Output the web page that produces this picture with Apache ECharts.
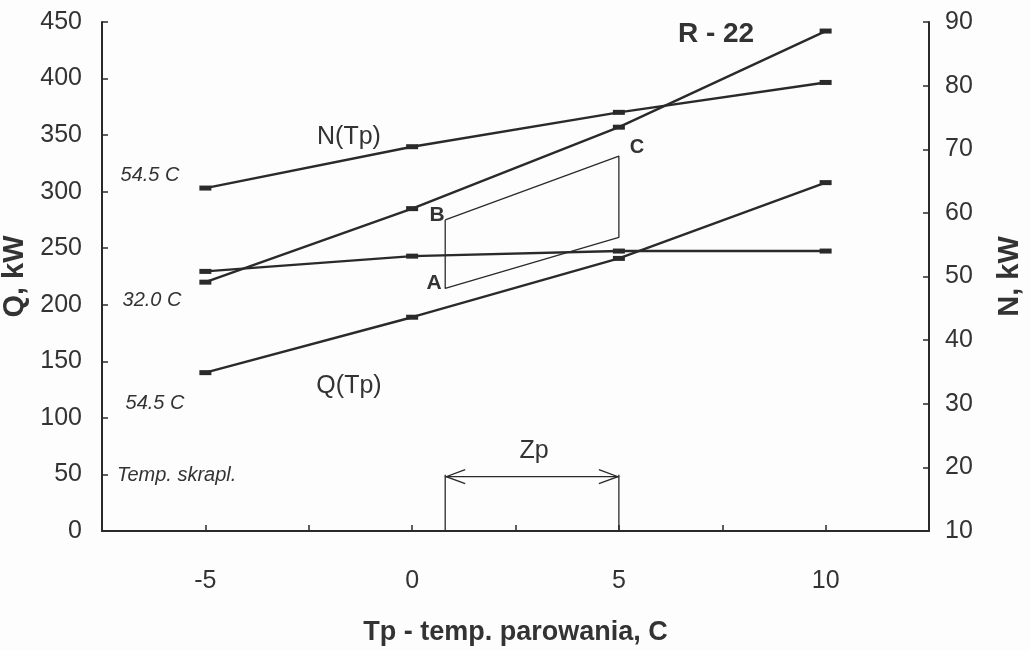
<!DOCTYPE html>
<html>
<head>
<meta charset="utf-8">
<script src="https://cdn.jsdelivr.net/npm/echarts@6/dist/echarts.min.js"></script>
<style>
html,body{margin:0;padding:0;background:#fdfdfd;}
#chart{width:1030px;height:651px;}
</style>
</head>
<body>
<div id="chart"></div>
<script>
// Evaporation temperature Tp, C
const tp = [-5, 0, 5, 10];
// Refrigerating capacity Q, kW (left axis)
const qCond32 = [220, 285, 357, 442];   // condensing 32.0 C
const qCond545 = [140, 189, 241, 308];  // condensing 54.5 C
// Compressor power N, kW (right axis)
const nCond545 = [63.9, 70.4, 75.8, 80.5]; // condensing 54.5 C
const nCond32 = [50.8, 53.2, 54.0, 54.0];  // condensing 32.0 C

// Working area A-B-C (Tp, Q)
const zoneTp = [0.8, 5];
const zoneLeftQ = [214.5, 275];   // A, B
const zoneRightQ = [259.5, 331.5]; // lower right, C
// Zp range (Tp from, Tp to, Q level)
const zpRange = [0.8, 5, 48];

const xTicks = [-5, 0, 5, 10];
const qTicks = [0, 450, 50];
const nTicks = [10, 90, 10];

const INK = '#2a2a2a';
const pairs = (xs, ys) => xs.map((x, i) => [x, ys[i]]);

const lineSeries = (name, data, yAxisIndex) => ({
  name, type: 'line', data: pairs(tp, data), yAxisIndex,
  symbol: 'rect', symbolSize: [12, 5], showSymbol: true,
  lineStyle: {color: INK, width: 2.4},
  itemStyle: {color: INK},
  silent: true, animation: false, z: 3
});

const zone = [
  [zoneTp[0], zoneLeftQ[1]], [zoneTp[1], zoneRightQ[1]],
  [zoneTp[1], zoneRightQ[0]], [zoneTp[0], zoneLeftQ[0]],
  [zoneTp[0], zoneLeftQ[1]]
];

const chart = echarts.init(document.getElementById('chart'), null, {renderer: 'canvas'});
const FAM = '"Liberation Sans", Arial, sans-serif';
const axisFont = {fontFamily: FAM, fontSize: 25, color: '#333'};
const option = {
  backgroundColor: '#fdfdfd',
  animation: false,
  grid: {left: 102, right: 101, top: 22, bottom: 120, containLabel: false, outerBoundsMode: 'none'},
  xAxis: {
    type: 'value', min: -7.5, max: 12.5, interval: 2.5,
    axisLine: {show: true, onZero: false, lineStyle: {color: INK, width: 2}},
    axisTick: {show: true, inside: true, length: 6, lineStyle: {color: INK, width: 1.5}},
    splitLine: {show: false},
    axisLabel: Object.assign({}, axisFont, {
      margin: 38,
      formatter: v => (xTicks.indexOf(v) >= 0 ? String(v) : '')
    }),
    name: 'Tp - temp. parowania, C',
    nameLocation: 'middle', nameGap: 88,
    nameTextStyle: {fontFamily: FAM, fontSize: 27, fontWeight: 'bold', color: '#333'}
  },
  yAxis: [{
    type: 'value', min: qTicks[0], max: qTicks[1], interval: qTicks[2],
    position: 'left',
    axisLine: {show: true, onZero: false, lineStyle: {color: INK, width: 2}},
    axisTick: {show: true, inside: true, length: 6, lineStyle: {color: INK, width: 1.5}},
    splitLine: {show: false},
    axisLabel: Object.assign({}, axisFont, {margin: 20}),
    name: 'Q, kW', nameLocation: 'middle', nameRotate: 90, nameGap: 63,
    nameTextStyle: {fontFamily: FAM, fontSize: 29, fontWeight: 'bold', color: '#333'}
  }, {
    type: 'value', min: nTicks[0], max: nTicks[1], interval: nTicks[2],
    position: 'right',
    axisLine: {show: true, onZero: false, lineStyle: {color: INK, width: 2}},
    axisTick: {show: true, inside: true, length: 6, lineStyle: {color: INK, width: 1.5}},
    splitLine: {show: false},
    axisLabel: Object.assign({}, axisFont, {margin: 16}),
    name: 'N, kW', nameLocation: 'middle', nameRotate: 90, nameGap: 66,
    nameTextStyle: {fontFamily: FAM, fontSize: 29, fontWeight: 'bold', color: '#333'}
  }],
  series: [
    lineSeries('N 54.5 C', nCond545, 1),
    lineSeries('Q 32.0 C', qCond32, 0),
    lineSeries('N 32.0 C', nCond32, 1),
    lineSeries('Q 54.5 C', qCond545, 0),
    {
      name: 'zone', type: 'line', data: zone, yAxisIndex: 0,
      symbol: 'none', lineStyle: {color: INK, width: 1.3}, silent: true, z: 2
    },
    {
      name: 'Zp', type: 'custom', yAxisIndex: 0, silent: true, z: 2,
      data: [zpRange],
      encode: {x: [0, 1], y: 2},
      renderItem: function (params, api) {
        const x1 = api.value(0), x2 = api.value(1), y = api.value(2);
        const p1 = api.coord([x1, y]), p2 = api.coord([x2, y]);
        const b1 = api.coord([x1, 0]), b2 = api.coord([x2, 0]);
        const st = {stroke: INK, lineWidth: 1.3, fill: null};
        const hl = 20, hw = 7;
        return {
          type: 'group',
          children: [
            {type: 'line', shape: {x1: b1[0], y1: b1[1], x2: p1[0], y2: p1[1] - 2}, style: st},
            {type: 'line', shape: {x1: b2[0], y1: b2[1], x2: p2[0], y2: p2[1] - 2}, style: st},
            {type: 'line', shape: {x1: p1[0], y1: p1[1], x2: p2[0], y2: p2[1]}, style: st},
            {type: 'polyline', shape: {points: [[p1[0] + hl, p1[1] - hw], [p1[0] + 1, p1[1]], [p1[0] + hl, p1[1] + hw]]}, style: st},
            {type: 'polyline', shape: {points: [[p2[0] - hl, p2[1] - hw], [p2[0] - 1, p2[1]], [p2[0] - hl, p2[1] + hw]]}, style: st}
          ]
        };
      }
    }
  ],
  graphic: [
    {type: 'text', x: 716, y: 34, style: {text: 'R - 22', font: 'bold 28px ' + FAM, fill: '#333', align: 'center', verticalAlign: 'middle'}},
    {type: 'text', x: 349, y: 137, style: {text: 'N(Tp)', font: '25px ' + FAM, fill: '#333', align: 'center', verticalAlign: 'middle'}},
    {type: 'text', x: 349, y: 386, style: {text: 'Q(Tp)', font: '25px ' + FAM, fill: '#333', align: 'center', verticalAlign: 'middle'}},
    {type: 'text', x: 150, y: 175, style: {text: '54.5 C', font: 'italic 20px ' + FAM, fill: '#333', align: 'center', verticalAlign: 'middle'}},
    {type: 'text', x: 152, y: 300, style: {text: '32.0 C', font: 'italic 20px ' + FAM, fill: '#333', align: 'center', verticalAlign: 'middle'}},
    {type: 'text', x: 155, y: 403, style: {text: '54.5 C', font: 'italic 20px ' + FAM, fill: '#333', align: 'center', verticalAlign: 'middle'}},
    {type: 'text', x: 117, y: 475, style: {text: 'Temp. skrapl.', font: 'italic 20px ' + FAM, fill: '#333', align: 'left', verticalAlign: 'middle'}},
    {type: 'text', x: 534, y: 451, style: {text: 'Zp', font: '25px ' + FAM, fill: '#333', align: 'center', verticalAlign: 'middle'}},
    {type: 'text', x: 437, y: 215, style: {text: 'B', font: 'bold 21px ' + FAM, fill: '#333', align: 'center', verticalAlign: 'middle'}},
    {type: 'text', x: 434, y: 283, style: {text: 'A', font: 'bold 21px ' + FAM, fill: '#333', align: 'center', verticalAlign: 'middle'}},
    {type: 'text', x: 637, y: 147, style: {text: 'C', font: 'bold 20px ' + FAM, fill: '#333', align: 'center', verticalAlign: 'middle'}}
  ]
};
chart.setOption(option);
</script>
</body>
</html>
